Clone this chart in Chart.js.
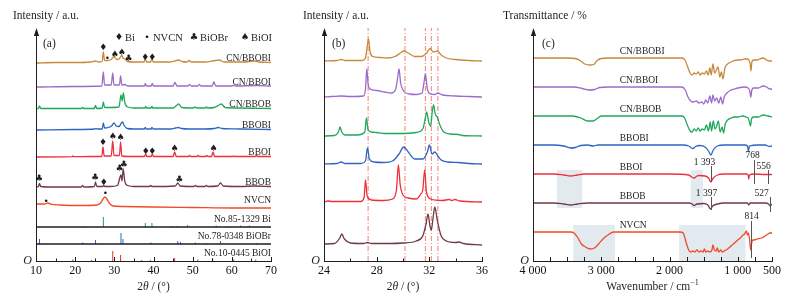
<!DOCTYPE html>
<html>
<head>
<meta charset="utf-8">
<script src="https://cdn.jsdelivr.net/npm/chart.js@4.4.0/dist/chart.umd.min.js"></script>
<style>
  html, body { margin: 0; padding: 0; background: #fff; }
  #wrap { position: relative; width: 800px; height: 304px; overflow: hidden; }
  canvas { position: absolute; top: 0; }
</style>
</head>
<body>
<div id="wrap">
  <canvas id="chartA" width="282" height="304" style="left:0"></canvas>
  <canvas id="chartB" width="218" height="304" style="left:282px"></canvas>
  <canvas id="chartC" width="300" height="304" style="left:500px"></canvas>
</div>
<script>
// ---------- (a) XRD patterns, 2θ in degrees, height above each trace's own baseline ----------
const namesA = ['CN/BBOBI', 'CN/BBOI', 'CN/BBOB', 'BBOBI', 'BBOI', 'BBOB', 'NVCN'];
const offsetsA = [198, 174, 152, 131, 104, 74, 56];
const ticksA = [10, 20, 30, 40, 50, 60, 70];

const xrdCNBBOBI = [[10,0],[15,0.5],[20,0.5],[24,1],[25.2,2],[26,1],[26.9,1.5],[27.2,11],[27.5,2.5],[28.3,2.5],[29.2,3.5],[29.9,6.5],[30.6,3.5],[31.2,4],[31.9,7.5],[32.3,4.5],[32.7,4],[33.4,1.5],[35,1],[37.6,1],[37.9,5],[38.2,1],[39.3,1],[39.6,5],[39.9,1],[44,1],[45.4,2],[46.3,3],[47.3,1.5],[48.5,1],[49.1,2.5],[49.6,1],[53,1],[55.8,2.5],[56.8,3],[58,1],[63,1],[65.8,2],[67,1],[70,0.5]];
const xrdCNBBOI = [[10,0],[20,0.5],[26.8,1],[27.2,15],[27.5,2],[29.2,2],[29.6,14],[29.9,2],[31.3,2],[31.6,11],[31.9,2],[32.6,2.5],[33.5,1],[37.7,1],[37.9,3.5],[38.2,1],[39.4,1],[39.7,3.5],[40,1],[45,1],[45.5,4.5],[46,1],[48.8,1],[49.2,2.5],[49.6,1],[51.3,1],[51.7,2.5],[52.1,1],[55,1],[55.4,5],[55.9,1],[60,1],[60.4,1.5],[61,1],[66.2,1.5],[70,1]];
const xrdCNBBOB = [[10,0],[10.6,0.5],[10.9,3],[11.2,0.5],[14,0.5],[21.6,0.5],[21.9,1.5],[22.2,0.5],[24.9,0.5],[25.2,3.5],[25.5,0.5],[26.9,1],[27.2,7],[27.5,1.5],[28.5,1.5],[31.2,2],[31.7,14],[32,8],[32.3,16],[32.7,6],[33.4,2],[35,1],[37.8,1],[38,2.5],[38.2,1],[39.4,1],[39.6,2.5],[39.8,1],[45,1],[46,4],[46.4,5],[47.2,1.5],[50.2,1],[50.6,2],[51,1],[53.2,1],[53.5,2],[53.8,1],[55.5,1.5],[56.8,4],[57.3,5],[58.3,1.5],[62,1],[70,0.5]];
const xrdBBOBI = [[10,0],[20,0.5],[25,1],[25.3,1.5],[25.6,1],[26.9,1],[27.2,7],[27.5,2],[28.5,2.5],[29.3,4],[29.9,7],[30.5,4],[31.2,3.5],[31.8,7],[32.1,8],[32.5,4.5],[33.3,1.5],[35,1],[37.7,1],[37.9,2.5],[38.2,1],[39.4,1],[39.6,2.5],[39.9,1],[44.5,1],[45.6,2],[46.3,2.5],[47.2,1.5],[49,1],[53,1],[55.5,1.5],[56.5,2.5],[57.5,1.5],[62,1],[70,0.5]];
const xrdBBOI = [[10,0],[19.2,0.3],[19.4,1],[19.6,0.3],[24,0.5],[26.8,0.5],[27.1,10],[27.4,1],[29.2,1],[29.6,16],[29.9,1.5],[31.3,1.5],[31.6,15],[31.9,1],[33.5,0.5],[37.7,0.5],[38,3],[38.3,0.5],[39.4,0.5],[39.7,3],[40,0.5],[45,0.5],[45.4,5],[45.8,0.5],[48.9,0.5],[49.2,1.5],[49.5,0.5],[51.1,0.5],[51.4,1.5],[51.7,0.5],[53.3,0.5],[53.6,1.5],[53.9,0.5],[54.8,0.5],[55.2,5],[55.6,0.5],[60.2,0.5],[60.5,1.2],[60.8,0.5],[66,0.5],[66.3,1.5],[66.6,0.5],[70,0.5]];
const xrdBBOB = [[10,0],[10.6,0.5],[10.9,3.5],[11.2,0.5],[14,0],[21.6,0],[21.9,1.5],[22.2,0],[24.9,0.5],[25.2,5],[25.5,0.5],[27,0.5],[27.3,1.5],[27.6,0.5],[29,0.5],[30.8,1.5],[31.7,12],[31.95,6],[32.25,18],[32.7,5],[33.4,1.5],[35,0.5],[39,0.5],[39.3,1.5],[39.6,0.5],[45.6,1],[46.2,4],[46.8,1],[50.3,0.5],[50.7,1.5],[51.1,0.5],[53.1,0.5],[53.5,1.5],[53.9,0.5],[56.4,1],[57.1,4],[57.8,1],[62,0.5],[66,1],[70,0.5]];
const xrdNVCN = [[10,1],[12.2,1],[13,2],[13.8,0.8],[16,0],[22,-0.5],[25.5,0],[26.5,2],[27.1,6],[27.6,8],[28.1,6],[28.7,2],[29.7,-1],[32,-1.5],[40,-2],[50,-2.5],[60,-3],[70,-3]];

// standard cards (stick patterns)
const refNames = ['No.85-1329 Bi', 'No.78-0348 BiOBr', 'No.10-0445 BiOI'];
const refOffsets = [34, 17, 0];
const refBiPos = [22.5, 27.2, 37.9, 39.6, 44.6, 46.0, 48.7, 56.0, 59.3, 62.2, 64.5, 67.5];
const refBiH = [1, 10, 4, 4, 1, 1, 2, 1.5, 1, 1.5, 1.5, 1];
const refBiOBrPos = [10.9, 21.9, 25.2, 31.7, 32.2, 39.3, 46.2, 46.9, 50.7, 53.4, 57.1, 66.3];
const refBiOBrH = [5, 1.5, 4, 11, 5, 1.5, 3, 2, 1.5, 1, 3, 1];
const refBiOIPos = [19.4, 24.2, 29.6, 31.6, 37.0, 39.2, 45.4, 51.3, 55.1, 60.5, 66.1];
const refBiOIH = [1.5, 1, 10, 6, 1, 1, 3, 1.5, 3, 1.5, 1.5];

// phase markers: [symbol, 2θ, height above baseline]
const markCNBBOBI = [['♦',27.2,15],['•',28.2,4.5],['♠',30.1,8.5],['♠',31.9,10],['♣',33.6,4],['♦',37.9,5.5],['♦',39.7,5.5]];
const markBBOI = [['♦',27.1,14],['♠',29.6,20],['♠',31.6,19],['♦',38.0,5],['♦',39.7,5],['♠',45.4,8],['♠',55.3,8]];
const markBBOB = [['♣',10.8,8],['♣',25.1,9],['♦',27.3,4],['♣',31.3,18],['♣',32.4,22],['♣',46.6,7.5]];
const markNVCN = [['•',12.6,3.5],['•',27.7,11]];

// ---------- (b) enlarged 24-36° ----------
const offsetsB = [200, 164, 125, 97, 59, 17];
const ticksB = [24, 28, 32, 36];
const zoomCNBBOBI = [[24,0],[25,0.5],[25.3,1.5],[25.6,0.5],[26.9,0.5],[27.15,3],[27.3,16],[27.38,22],[27.5,9],[27.7,4.5],[28.2,3.5],[28.8,3],[29.4,4.5],[29.8,8],[30.05,10],[30.4,8],[30.9,4.5],[31.4,4.5],[31.8,8],[32.05,12.5],[32.3,9],[32.6,10],[32.9,6],[33.3,3],[34,1.5],[35,0.5],[36,0]];
const zoomCNBBOI = [[24,0],[24.6,0.5],[25.3,1],[26,0.5],[27,1],[27.15,8],[27.25,28],[27.35,13],[27.5,8],[28,6.5],[28.6,5],[29.1,4],[29.45,8],[29.6,20],[29.7,28],[29.82,14],[30.05,6],[30.5,3],[31,2.5],[31.45,4],[31.6,15],[31.7,23],[31.85,8],[32.1,3],[32.4,2.5],[32.65,4],[33,2],[34,1],[35,0.5],[36,0]];
const zoomCNBBOB = [[24,0],[24.8,0.5],[25.1,4],[25.22,9],[25.35,4],[25.6,1],[26.5,1],[27.1,4],[27.22,18],[27.35,6],[27.6,4],[28,3.5],[28.6,2.5],[30,2.5],[31,3.5],[31.5,7],[31.7,18],[31.8,24],[31.95,14],[32.1,10],[32.22,24],[32.32,31],[32.45,22],[32.6,19],[32.8,11],[33.1,4],[33.6,2],[34.2,1.5],[34.5,0.5],[36,0]];
const zoomBBOBI = [[24,0],[25,0.5],[25.3,2],[25.6,0.5],[26.8,0.5],[27.15,3],[27.3,16],[27.45,5],[27.8,2],[28.5,1.5],[29.2,3],[29.7,10],[30.05,17],[30.4,12],[30.9,5],[31.5,5],[31.85,12],[32,19],[32.2,10],[32.42,12],[32.6,9],[32.9,4],[33.4,2],[34.2,1.5],[35,0.5],[36,0]];
const zoomBBOI = [[24,0],[24.3,1],[24.6,0.5],[26.8,0.5],[27.05,5],[27.15,22],[27.28,6],[27.6,2],[28.5,1.5],[29.2,3],[29.5,12],[29.65,37],[29.78,18],[30,7],[30.4,4],[31,3],[31.35,8],[31.5,12],[31.65,32],[31.78,10],[32.1,3],[33,1.5],[33.5,2.5],[33.7,1.5],[33.95,2.5],[34.3,1],[36,0]];
const zoomBBOB = [[24,0],[24.8,0.5],[25.2,6],[25.35,10],[25.55,5],[26,1],[27,0.5],[27.3,1.5],[27.6,0.5],[29,0.5],[30,1],[31,3],[31.5,8],[31.75,20],[31.9,30],[32.05,18],[32.15,14],[32.3,28],[32.42,37],[32.6,24],[32.9,8],[33.3,3],[34,1.5],[34.25,2],[34.6,0.5],[36,-1]];
const guideB = [27.35, 30.15, 31.7, 32.15, 32.65];

// ---------- (c) FTIR, wavenumber in cm-1, change from each trace's baseline ----------
const namesC = ['CN/BBOBI', 'CN/BBOI', 'CN/BBOB', 'BBOBI', 'BBOI', 'BBOB', 'NVCN'];
const offsetsC = [203, 174, 145, 116, 87, 58, 29];
const ticksC = [4000, 3000, 2000, 1000, 500];
const ftirCNBBOBI = [[4000,0],[3500,0],[3380,-0.5],[3300,-3],[3240,-6],[3170,-7],[3110,-6.5],[3060,-2.5],[3000,-0.5],[2900,0],[1820,0],[1775,-2],[1740,-8],[1700,-15],[1670,-17],[1640,-15],[1610,-16],[1580,-14],[1555,-17],[1520,-15],[1490,-16],[1460,-13],[1435,-17],[1410,-10],[1390,-17],[1365,-6],[1340,-15],[1315,-12],[1290,-9],[1265,-19],[1240,-14],[1218,-21],[1190,-10],[1150,-6],[1100,-4],[1072,-3],[1000,-2],[960,-2],[900,-1],[860,-1],[840,-2],[820,-6],[808,-13],[795,-4],[770,-2],[720,-2],[680,-1],[633,0],[580,-2],[530,-3],[500,-3]];
const ftirCNBBOI = [[4000,0],[3400,0],[3280,-1.5],[3180,-3],[3100,-2.5],[3020,-0.5],[2900,0],[1820,0],[1770,-3],[1730,-10],[1690,-14],[1650,-15],[1610,-14],[1570,-16],[1530,-15],[1500,-17],[1470,-13],[1440,-16],[1410,-9],[1385,-16],[1365,-8],[1340,-14],[1310,-11],[1280,-16],[1250,-10],[1225,-17],[1200,-10],[1160,-6],[1100,-3],[1050,-2],[1000,-1],[900,0],[850,-1],[825,-4],[810,-10],[795,-3],[770,-1],[700,-1],[630,1],[580,0],[530,-2],[500,-2]];
const ftirCNBBOB = [[4000,0],[3420,0],[3300,-2],[3200,-5],[3120,-5],[3050,-2],[3000,0],[1820,0],[1780,-2],[1740,-9],[1700,-15],[1670,-16],[1640,-13],[1610,-15],[1580,-12],[1555,-15],[1520,-13],[1490,-14],[1460,-9],[1430,-15],[1405,-6],[1385,-15],[1360,-5],[1335,-13],[1310,-10],[1285,-5],[1260,-16],[1230,-11],[1210,-17],[1185,-8],[1150,-4],[1100,-2],[1050,-1],[1000,-1],[930,0],[880,-1],[850,-2],[830,-6],[815,-10],[800,-3],[770,-1],[700,-1],[630,1],[560,0],[500,-1]];
const ftirBBOBI = [[4000,0],[3700,0],[3550,-1],[3450,-3],[3380,-2.5],[3300,-0.5],[3200,0],[3120,-1],[3050,0],[1800,0],[1720,-1],[1660,-3.5],[1620,-1.5],[1560,-0.5],[1480,-2],[1430,-6],[1395,-10],[1360,-5],[1300,-1],[1200,0],[900,0],[860,-1],[845,-6],[830,-1],[700,0],[600,0],[540,-1.5],[500,-1]];
const ftirBBOI = [[4000,0],[3700,0],[3550,-1],[3450,-2],[3350,-1],[3250,0],[2000,0],[1720,-1],[1680,-3],[1640,-4],[1600,-2],[1560,-1.5],[1480,-2],[1430,-4],[1395,-8],[1360,-4],[1300,-1],[1200,0],[880,0],[850,-1],[840,-5],[830,-1],[760,0],[600,-0.5],[500,-0.5]];
const ftirBBOB = [[4000,0],[3700,0],[3550,-1],[3450,-2],[3350,-1],[3200,0],[1720,0],[1670,-1],[1640,-2.5],[1600,-1],[1500,-0.5],[1440,-2],[1400,-6],[1370,-3],[1300,-1],[1200,0],[860,0],[840,-2],[820,0],[600,0],[550,-1],[527,-3],[510,-1.5],[500,-2]];
const ftirNVCN = [[4000,0],[3450,0],[3400,-1],[3350,-5],[3290,-12],[3230,-15],[3165,-17],[3100,-16],[3040,-12],[2960,-6],[2880,-2],[2820,0],[1850,0],[1800,-1],[1760,-10],[1720,-18],[1690,-20],[1660,-19],[1630,-20],[1600,-18],[1570,-20],[1540,-19],[1510,-20],[1490,-17],[1470,-20],[1440,-19],[1410,-20],[1380,-18],[1365,-13],[1345,-18],[1320,-19],[1300,-16],[1280,-20],[1250,-18],[1230,-20],[1200,-19],[1150,-17],[1100,-14],[1050,-11],[1000,-8],[950,-5],[926,-3],[900,-2],[875,1],[860,-3],[845,-1],[825,-10],[812,-18],[800,-12],[780,-8],[760,-8],[720,-7],[650,-6],[600,-4],[560,-2],[530,-1],[500,-1]];
// shaded bands: [from, to, lower, upper]
const shadeC = [[3650, 3280, 53, 91], [1690, 1510, 53, 91], [3410, 2800, 0, 36], [1860, 890, 0, 36]];
// band labels: [wavenumber, text, label height, line top, line bottom, text shift px]
const peakC = [[1393,'1 393',99,95,79,-7],[768,'768',106,101,77,-2],[556,'556',95,91,77,-5],[1397,'1 397',68,64,51,-5],[527,'527',68,64,49,-9],[814,'814',45,40,3,0]];

const colorsA = ['#c9883a', '#9b6bc9', '#1fa85c', '#2c64c2', '#ee2f3c', '#6d3b44', '#f04a28'];
const INK = '#1e1e1e';
const SERIF = '"Liberation Serif", "Times New Roman", serif';

function curveSet(points, offset, color) {
    return {
        data: points.map(p => ({ x: p[0], y: p[1] + offset })),
        borderColor: color, borderWidth: 1.3, pointRadius: 0,
        cubicInterpolationMode: 'monotone', fill: false
    };
}

function stickSet(pos, h, offset, color) {
    const data = [];
    pos.forEach((x, i) => { data.push({ x, y: offset }, { x, y: offset + h[i] }, { x, y: null }); });
    return { data, borderColor: color, borderWidth: 1, pointRadius: 0, spanGaps: false, tension: 0 };
}

function fmt(v) {
    return v >= 1000 ? Math.floor(v / 1000) + ' ' + String(v % 1000).padStart(3, '0') : String(v);
}

function drawSegments(ctx, segs, cx, cy) {
    const fontOf = s => s[1] === 'italic' ? 'italic 11.5px ' + SERIF : (s[1] === 'sup' ? '8px ' + SERIF : '11.5px ' + SERIF);
    let total = 0;
    segs.forEach(s => { ctx.font = fontOf(s); total += ctx.measureText(s[0]).width; });
    let xx = cx - total / 2;
    ctx.textAlign = 'left';
    segs.forEach(s => {
        ctx.font = fontOf(s);
        ctx.fillText(s[0], xx, s[1] === 'sup' ? cy - 4 : cy);
        xx += ctx.measureText(s[0]).width;
    });
}

const panelDecor = {
    id: 'panelDecor',
    beforeDatasetsDraw(chart, args, o) {
        if (!o.shades) return;
        const { ctx, scales: { x, y } } = chart;
        ctx.save();
        ctx.fillStyle = '#e2e9ef';
        o.shades.forEach(s => {
            const x1 = x.getPixelForValue(s[0]), x2 = x.getPixelForValue(s[1]);
            const y1 = y.getPixelForValue(s[3]), y2 = y.getPixelForValue(s[2]);
            ctx.fillRect(Math.min(x1, x2), y1, Math.abs(x2 - x1), y2 - y1);
        });
        ctx.restore();
    },
    afterDatasetsDraw(chart, args, o) {
        const { ctx, chartArea: a, scales: { x, y } } = chart;
        ctx.save();
        ctx.fillStyle = INK;
        ctx.strokeStyle = INK;
        ctx.lineWidth = 1;

        // y axis with arrow head
        const ax = Math.round(a.left) + 0.5;
        ctx.beginPath(); ctx.moveTo(ax, a.bottom); ctx.lineTo(ax, a.top + 6); ctx.stroke();
        ctx.beginPath(); ctx.moveTo(ax, a.top); ctx.lineTo(ax - 2.6, a.top + 8); ctx.lineTo(ax + 2.6, a.top + 8); ctx.closePath(); ctx.fill();

        // inward tick marks
        for (let v = o.tickFrom; v <= o.tickTo + 1e-9; v += o.tickStep) {
            const px = Math.round(x.getPixelForValue(v)) + 0.5;
            let len = 4;
            if (o.majorStep) len = Math.abs(v / o.majorStep - Math.round(v / o.majorStep)) < 1e-6 ? 4 : 2.5;
            ctx.beginPath(); ctx.moveTo(px, a.bottom); ctx.lineTo(px, a.bottom - len); ctx.stroke();
        }

        ctx.textBaseline = 'middle';
        // axis titles, panel letter, origin
        ctx.font = '11.5px ' + SERIF;
        ctx.textAlign = 'left';
        ctx.fillText(o.yTitle, o.yTitleX, 16);
        ctx.fillText(o.letter, a.left + o.letterDx, 44);
        ctx.font = 'italic 12px ' + SERIF;
        ctx.textAlign = 'right';
        ctx.fillText('O', a.left - 4, a.bottom);
        drawSegments(ctx, o.xTitle, (a.left + a.right) / 2, 287);

        // annotation lines
        (o.peaks || []).forEach(p => {
            const px = Math.round(x.getPixelForValue(p[0])) + 0.5;
            ctx.strokeStyle = '#555';
            ctx.beginPath(); ctx.moveTo(px, y.getPixelForValue(p[3])); ctx.lineTo(px, y.getPixelForValue(p[4])); ctx.stroke();
            ctx.font = '9.5px ' + SERIF;
            ctx.textAlign = 'center';
            ctx.fillText(p[1], px + p[5], y.getPixelForValue(p[2]));
        });

        // trace labels
        ctx.font = '9.5px ' + SERIF;
        (o.labels || []).forEach(l => {
            ctx.textAlign = l[3];
            ctx.fillText(l[0], x.getPixelForValue(l[1]), y.getPixelForValue(l[2]));
        });

        // phase markers
        ctx.font = '9px "DejaVu Sans", sans-serif';
        ctx.textAlign = 'center';
        (o.marks || []).forEach(m => {
            ctx.fillText(m[0], x.getPixelForValue(m[1]), y.getPixelForValue(m[2]));
        });

        // symbol key
        (o.key || []).forEach(k => {
            ctx.font = '9.5px "DejaVu Sans", sans-serif';
            ctx.textAlign = 'center';
            ctx.fillText(k[0], k[2], 38);
            ctx.font = '10.5px ' + SERIF;
            ctx.textAlign = 'left';
            ctx.fillText(k[1], k[2] + 6, 38);
        });
        ctx.restore();
    }
};

function baseOptions(xmin, xmax, tickVals, reverse, pad, decor) {
    return {
        responsive: false,
        animation: false,
        events: [],
        layout: { padding: { left: pad[0], right: pad[1], top: 28, bottom: 0 } },
        plugins: { legend: { display: false }, tooltip: { enabled: false }, panelDecor: decor },
        scales: {
            x: {
                type: 'linear', min: xmin, max: xmax, reverse,
                grid: { display: false, drawTicks: false },
                border: { display: true, color: INK, width: 1 },
                afterBuildTicks: s => { s.ticks = tickVals.map(v => ({ value: v })); },
                afterFit: s => { s.height = 43; },
                ticks: {
                    autoSkip: false, maxRotation: 0, padding: 3, color: '#111',
                    font: { family: SERIF, size: 12 },
                    callback: v => fmt(v)
                }
            },
            y: { display: false, min: 0, max: 233 }
        }
    };
}

// ----- panel (a) -----
const seriesA = [xrdCNBBOBI, xrdCNBBOI, xrdCNBBOB, xrdBBOBI, xrdBBOI, xrdBBOB, xrdNVCN];
const dsA = seriesA.map((s, i) => curveSet(s, offsetsA[i], colorsA[i]));
dsA.push(curveSet([[10, 0], [70, 0]], refOffsets[0], INK));
dsA.push(curveSet([[10, 0], [70, 0]], refOffsets[1], INK));
dsA.push(stickSet(refBiPos, refBiH, refOffsets[0], '#22a35a'));
dsA.push(stickSet(refBiOBrPos, refBiOBrH, refOffsets[1], '#2c64c2'));
dsA.push(stickSet(refBiOIPos, refBiOIH, refOffsets[2], '#e82c34'));

const marksA = [];
[[markCNBBOBI, 0], [markBBOI, 4], [markBBOB, 5], [markNVCN, 6]].forEach(([list, i]) => {
    list.forEach(m => marksA.push([m[0], m[1], m[2] + offsetsA[i]]));
});
const labelsA = namesA.map((n, i) => [n, 70, offsetsA[i] + 5, 'right'])
    .concat(refNames.map((n, i) => [n, 70, refOffsets[i] + 8, 'right']));

new Chart(document.getElementById('chartA'), {
    type: 'line',
    data: { datasets: dsA },
    options: baseOptions(10, 70, ticksA, false, [36, 11], {
        yTitle: 'Intensity / a.u.', yTitleX: 13, letter: '(a)', letterDx: 7,
        xTitle: [['2', ''], ['θ', 'italic'], [' / (°)', '']],
        tickFrom: 10, tickTo: 70, tickStep: 5, majorStep: 10,
        labels: labelsA, marks: marksA,
        key: [['♦', 'Bi', 119], ['•', 'NVCN', 147], ['♣', 'BiOBr', 194], ['♠', 'BiOI', 245]]
    }),
    plugins: [panelDecor]
});

// ----- panel (b) -----
const seriesB = [zoomCNBBOBI, zoomCNBBOI, zoomCNBBOB, zoomBBOBI, zoomBBOI, zoomBBOB];
const dsB = seriesB.map((s, i) => curveSet(s, offsetsB[i], colorsA[i]));
guideB.forEach(g => dsB.push({
    data: [{ x: g, y: 0 }, { x: g, y: 233 }],
    borderColor: '#f2806e', borderWidth: 1, borderDash: [5, 2, 1, 2], pointRadius: 0, tension: 0
}));

new Chart(document.getElementById('chartB'), {
    type: 'line',
    data: { datasets: dsB },
    options: baseOptions(24, 36, ticksB, false, [42, 18], {
        yTitle: 'Intensity / a.u.', yTitleX: 21, letter: '(b)', letterDx: 8,
        xTitle: [['2', ''], ['θ', 'italic'], [' / (°)', '']],
        tickFrom: 24, tickTo: 36, tickStep: 2, majorStep: 4
    }),
    plugins: [panelDecor]
});

// ----- panel (c) -----
const seriesC = [ftirCNBBOBI, ftirCNBBOI, ftirCNBBOB, ftirBBOBI, ftirBBOI, ftirBBOB, ftirNVCN];
const dsC = seriesC.map((s, i) => curveSet(s, offsetsC[i], colorsA[i]));
const labelsC = namesC.map((n, i) => [n, 2730, offsetsC[i] + 7, 'left']);

new Chart(document.getElementById('chartC'), {
    type: 'line',
    data: { datasets: dsC },
    options: baseOptions(500, 4000, ticksC, true, [33, 28], {
        yTitle: 'Transmittance / %', yTitleX: 3, letter: '(c)', letterDx: 9,
        xTitle: [['Wavenumber / cm', ''], ['−1', 'sup']],
        tickFrom: 500, tickTo: 4000, tickStep: 250,
        labels: labelsC, shades: shadeC, peaks: peakC
    }),
    plugins: [panelDecor]
});
</script>
</body>
</html>
